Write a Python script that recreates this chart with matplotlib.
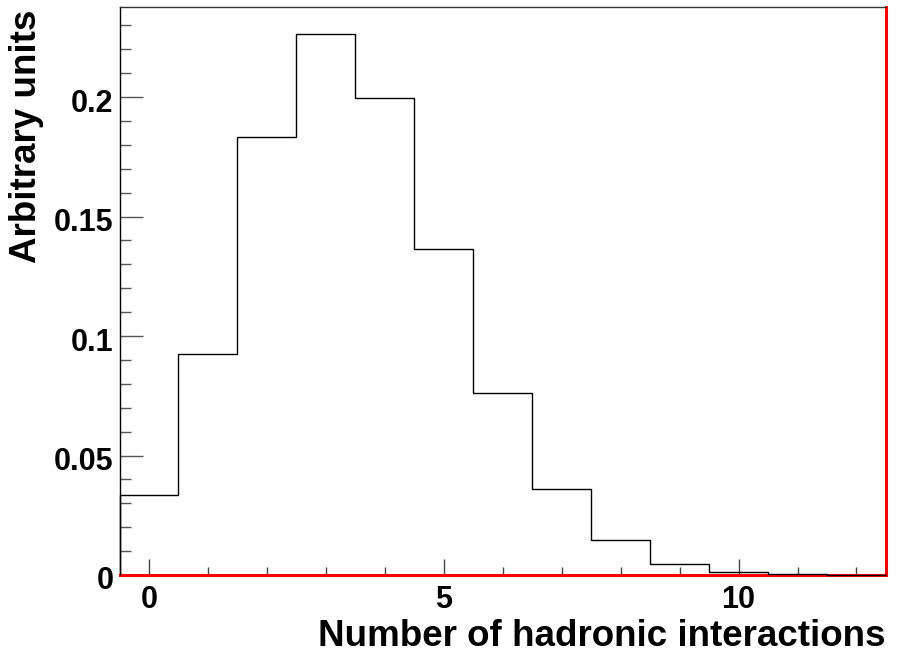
#!/usr/bin/env python3
"""Number of hadronic interactions histogram (ROOT-style)."""

import matplotlib
matplotlib.use('Agg')
import matplotlib.pyplot as plt
import matplotlib.ticker as ticker
import matplotlib.transforms as mtransforms
import numpy as np

# ── Data ───────────────────────────────────────────────────────────────

BIN_EDGES = np.arange(-0.5, 13.0, 1.0)          # 13 unit bins centred on 0..12
BIN_VALUES = [0.0333, 0.0923, 0.1833, 0.2262, 0.1997, 0.1363, 0.0763,
              0.0359, 0.0145, 0.0046, 0.0011, 0.0004, 0.0]

X_LABEL = 'Number of hadronic interactions'
Y_LABEL = 'Arbitrary units'

FONT = 'Liberation Sans'
RED = '#ff0000'


def fmt_y(v, pos):
    return f'{v:g}'


fig = plt.figure(figsize=(8.98, 6.56), dpi=100)
ax = fig.add_axes([0.1331, 0.1235, 0.9866 - 0.1331, 0.9893 - 0.1235])

ax.stairs(BIN_VALUES, BIN_EDGES, color='black', linewidth=1.0,
          zorder=4, clip_on=False)

ax.set_xlim(-0.5, 12.5)
ax.set_ylim(0, 0.2377)

# ticks: ROOT style, inside the frame
ax.xaxis.set_major_locator(ticker.MultipleLocator(5))
ax.xaxis.set_minor_locator(ticker.MultipleLocator(1))
ax.yaxis.set_major_locator(ticker.MultipleLocator(0.05))
ax.yaxis.set_minor_locator(ticker.MultipleLocator(0.01))
ax.yaxis.set_major_formatter(ticker.FuncFormatter(fmt_y))

ax.tick_params(axis='x', which='major', direction='in', length=11.5,
               width=1.0, color='#444444', pad=7, labelsize=22)
ax.tick_params(axis='x', which='minor', direction='in', length=5.5,
               width=1.0, color='#444444')
ax.tick_params(axis='y', which='major', direction='in', length=16.5,
               width=1.0, color='#555555', pad=4.5, labelsize=22)
ax.tick_params(axis='y', which='minor', direction='in', length=8,
               width=1.0, color='#555555')
ax.tick_params(top=False, right=False)

# y labels sit a few pixels below their ticks in the original
shift = mtransforms.ScaledTranslation(0, -3 / 100, fig.dpi_scale_trans)
for lab in ax.get_yticklabels():
    lab.set_transform(lab.get_transform() + shift)

for lab in ax.get_xticklabels() + ax.get_yticklabels():
    lab.set_fontfamily(FONT)
    lab.set_fontweight('bold')

# frame: black left, grey top, red bottom and right
ax.spines['left'].set_color('black')
ax.spines['left'].set_linewidth(1.0)
ax.spines['top'].set_color('#333333')
ax.spines['top'].set_linewidth(1.0)
ax.spines['right'].set_color(RED)
ax.spines['right'].set_linewidth(2.2)
ax.spines['bottom'].set_color(RED)
ax.spines['bottom'].set_linewidth(2.2)

ax.set_xlabel(X_LABEL, fontsize=26.5, fontweight='bold', family=FONT, loc='right')
ax.xaxis.set_label_coords(1.0, -0.078)
ax.set_ylabel(Y_LABEL, fontsize=26.5, fontweight='bold', family=FONT, loc='top')
ax.yaxis.set_label_coords(-0.098, 0.995)

fig.savefig('out.png', dpi=100)
plt.close(fig)
